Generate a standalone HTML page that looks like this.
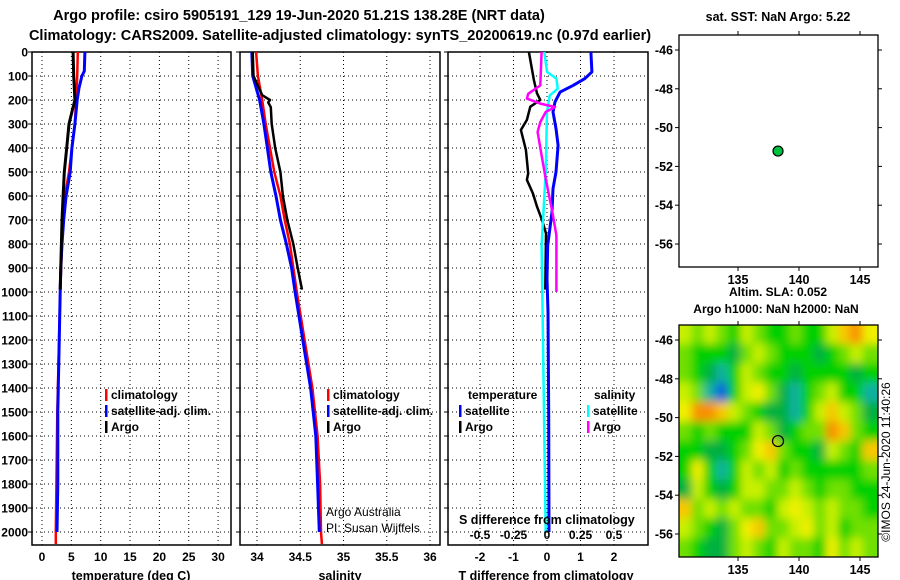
<!DOCTYPE html>
<html><head><meta charset="utf-8"><style>
html,body{margin:0;padding:0;background:#fff;}
svg{display:block;font-family:"Liberation Sans",Arial,sans-serif;font-weight:bold;}
</style></head><body>
<svg id="fig" width="900" height="580" viewBox="0 0 900 580" xmlns="http://www.w3.org/2000/svg">
<defs>
<filter id="blur" x="-5%" y="-5%" width="110%" height="110%"><feGaussianBlur stdDeviation="4.5"/></filter>
<clipPath id="mapclip"><rect x="679" y="325" width="199" height="232"/></clipPath>
</defs>
<text x="299" y="20" text-anchor="middle" font-size="14.5">Argo profile: csiro 5905191_129 19-Jun-2020 51.21S 138.28E (NRT data)</text>
<text x="340" y="40" text-anchor="middle" font-size="14.5">Climatology: CARS2009. Satellite-adjusted climatology: synTS_20200619.nc (0.97d earlier)</text>
<g id="layer"></g>
</svg>
<script>
// ---------- data ----------
const depthTicks = [0,100,200,300,400,500,600,700,800,900,1000,1100,1200,1300,1400,1500,1600,1700,1800,1900,2000];
const tempTicks = [0,5,10,15,20,25,30];
const salTicks = [34,34.5,35,35.5,36];
const tdiffTicks = [-2,-1,0,1,2];
const sdiffTickLabels = ["-0.5","-0.25","0","0.25","0.5"];
const sdiffTickValues = [-0.5,-0.25,0,0.25,0.5];

const argoDepth = [0,100,200,250,300,400,500,600,700,800,990];
const argoTemp  = [5.3,5.4,5.6,5.1,4.6,4.2,3.8,3.6,3.4,3.3,3.1];
const climDepth = [0,100,200,300,400,500,600,700,800,1000,1500,2000,2050];
const climTemp  = [6.1,6.0,5.8,5.6,5.1,4.6,3.9,3.6,3.4,3.1,2.6,2.35,2.35];
const satDepth  = [0,80,100,150,200,300,400,500,600,700,800,900,1000,1500,1800,2000];
const satTemp   = [7.3,7.2,6.8,6.3,6.0,5.6,5.1,4.8,4.1,3.7,3.4,3.2,3.1,2.7,2.7,2.55];

const argoSalDepth = [0,100,180,200,210,230,300,400,500,600,700,800,900,990];
const argoSal = [33.95,33.96,34.06,34.15,34.13,34.16,34.17,34.21,34.27,34.30,34.35,34.42,34.47,34.52];
const climSalDepth = [0,100,200,300,400,500,600,700,800,1000,1200,1400,1600,1800,2000,2050];
const climSal = [33.99,34.01,34.06,34.10,34.15,34.20,34.27,34.32,34.38,34.46,34.55,34.64,34.70,34.73,34.74,34.75];
const satSalDepth = [0,100,200,300,400,500,600,700,800,900,1000,1200,1400,1600,1800,2000];
const satSal = [33.94,33.95,34.03,34.08,34.12,34.16,34.22,34.27,34.34,34.40,34.44,34.53,34.62,34.68,34.70,34.72];

const argoTdDepth = [0,117,172,200,228,283,325,408,506,533,589,644,700,756,990];
const argoTdiff = [-0.54,-0.39,-0.3,-0.2,-0.5,-0.6,-0.78,-0.63,-0.56,-0.6,-0.42,-0.3,-0.15,-0.03,-0.05];
const satTdDepth = [0,83,111,139,167,208,250,319,389,500,569,667,806,944,1083,1500,2000];
const satTdiff = [1.31,1.34,1.13,0.78,0.39,0.24,0.18,0.27,0.33,0.27,0.18,0.15,0.02,0.0,0.03,0.05,0.06];
const satSdDepth = [0,83,111,153,181,250,500,806,1200,1600,2000];
const satSdiff = [-0.02,0.0,0.07,0.08,0.02,0.0,-0.01,-0.04,-0.03,-0.02,-0.01];
const argoSdDepth = [0,139,174,194,215,229,250,292,333,431,528,667,764,833,1000];
const argoSdiff = [-0.04,-0.05,-0.14,-0.15,-0.05,0.06,-0.01,-0.05,-0.07,-0.04,-0.01,0.04,0.07,0.07,0.07];

const floatLon = 138.28, floatLat = -51.21;
const lonTicks = [135,140,145];
const latTicks = [-46,-48,-50,-52,-54,-56];
// SLA colour-level grid, rows lat -45.7..-56.7, cols lon 130.7..145.7
const slaGrid = [
[5,4,5,4,3,5,4,3,3,4,3,3,5,7,8,6],
[4,3,3,3,2,4,5,4,3,3,3,2,3,4,5,4],
[4,3,2,1,3,5,4,3,3,2,3,3,3,3,2,3],
[5,4,1,0,3,5,6,4,2,1,3,4,5,3,3,1],
[6,8,8,7,5,4,3,2,2,1,3,5,7,5,4,2],
[4,3,4,3,3,3,5,4,2,3,4,4,8,7,4,3],
[3,3,2,2,3,4,6,7,4,3,3,2,5,4,3,7],
[3,6,3,1,3,5,4,5,3,4,3,3,3,3,3,4],
[2,5,3,2,3,5,5,4,4,5,4,3,4,4,3,3],
[7,4,5,4,5,4,4,3,5,6,5,4,5,4,4,3],
[5,4,3,2,4,6,7,4,4,5,6,4,5,3,4,4],
[4,3,2,2,4,5,4,3,5,4,4,3,6,4,5,4]];
const slaColors = ["#1060e0","#10b0a0","#00b040","#00d000","#70e000","#c8f000","#f0f000","#f8c800","#f89000"];

// ---------- scales ----------
const TOP=52, BOT=545;
const yD = d => 52 + 0.24*d;
const xT = t => 42 + 5.87*t;
const xS = s => 257 + 86.5*(s-34);
const xTd = v => 547 + 33.5*v;
const xSd = v => 547 + 134*v;
const mapX = lon => 738 + 12.2*(lon-135);
const mapY = (lat,off) => off + 50 - 19.4*(lat+46);

const NS="http://www.w3.org/2000/svg";
const layer=document.getElementById('layer');
function el(tag, attrs, parent){const e=document.createElementNS(NS,tag);for(const k in attrs)e.setAttribute(k,attrs[k]);(parent||layer).appendChild(e);return e;}
function txt(x,y,s,size,anchor,weight,parent){const t=el('text',{x:x,y:y,'font-size':size,'text-anchor':anchor||'start','font-weight':weight||'bold'},parent);t.textContent=s;return t;}

// ---------- panels ----------
const panels=[{x0:32,x1:231,name:'temperature-panel'},{x0:240,x1:440,name:'salinity-panel'},{x0:448,x1:648,name:'difference-panel'}];
panels.forEach((p,i)=>{
  const g=el('g',{});
  
  
  depthTicks.forEach(d=>{
    const y=yD(d);
    const l=el('line',{x1:p.x0,x2:p.x1,y1:y,y2:y,stroke:'#000','stroke-width':1,'stroke-dasharray':'1,3'},g);
    
    
    el('line',{x1:p.x0-4,x2:p.x0,y1:y,y2:y,stroke:'#000','stroke-width':1},g);
    if(i===0){
      const t=txt(28,y+4.5,String(d),12,'end','bold',g);
      
      
    }
  });
  const xs = i===0? tempTicks.map(xT) : i===1? salTicks.map(xS) : tdiffTicks.map(xTd);
  const labs = i===0? tempTicks.map(String) : i===1? salTicks.map(String) : tdiffTicks.map(String);
  xs.forEach((x,k)=>{
    const l=el('line',{x1:x,x2:x,y1:TOP,y2:BOT,stroke:'#000','stroke-width':1,'stroke-dasharray':'1,3'},g);
    
    
    const t=txt(x,561,labs[k],12,'middle','bold',g);
    
    
  });
  const r=el('rect',{x:p.x0,y:TOP,width:p.x1-p.x0,height:BOT-TOP,fill:'none',stroke:'#000','stroke-width':1.5},g);
  
  
});
const t1=txt(131,580,'temperature (deg C)',12.5,'middle');
 
const t2=txt(340,580,'salinity',12.5,'middle');
 
const t3=txt(546,580,'T difference from climatology',12.5,'middle');
 

function series(depths, vals, xf, color, name, w){
  const pts=depths.map((d,k)=>xf(vals[k]).toFixed(1)+','+yD(d).toFixed(1)).join(' ');
  const pl=el('polyline',{points:pts,fill:'none',stroke:color,'stroke-width':w||2.5,'stroke-linejoin':'round'});
  
  
}
series(climDepth,climTemp,xT,'#ff0000','climatology-temp-line');
series(satDepth,satTemp,xT,'#0000ff','satellite-adj-temp-line',3);
series(argoDepth,argoTemp,xT,'#000000','argo-temp-line',3);
series(climSalDepth,climSal,xS,'#ff0000','climatology-salinity-line');
series(satSalDepth,satSal,xS,'#0000ff','satellite-adj-salinity-line',3);
series(argoSalDepth,argoSal,xS,'#000000','argo-salinity-line');
series(argoTdDepth,argoTdiff,xTd,'#000000','argo-temp-diff-line');
series(satTdDepth,satTdiff,xTd,'#0000ff','satellite-temp-diff-line',3);
series(satSdDepth,satSdiff,xSd,'#00ffff','satellite-sal-diff-line');
series(argoSdDepth,argoSdiff,xSd,'#ff00ff','argo-sal-diff-line');

// legends
function legend(x,y,color,label,name){
  const g=el('g',{});
  
  
  el('rect',{x:x,y:y-10,width:2.5,height:12,fill:color},g);
  txt(x+6,y,label,12,'start','bold',g);
}
legend(105,399,'#ff0000','climatology','legend-climatology');
legend(105,415,'#0000ff','satellite-adj. clim.','legend-satellite-adj');
legend(105,431,'#000000','Argo','legend-argo');
legend(327,399,'#ff0000','climatology','legend-climatology-sal');
legend(327,415,'#0000ff','satellite-adj. clim.','legend-satellite-adj-sal');
legend(327,431,'#000000','Argo','legend-argo-sal');
const lt=txt(468,399,'temperature',12);
const ls=txt(594,399,'salinity',12);
legend(459,415,'#0000ff','satellite','legend-temp-satellite');
legend(459,431,'#000000','Argo','legend-temp-argo');
legend(587,415,'#00ffff','satellite','legend-sal-satellite');
legend(587,431,'#ff00ff','Argo','legend-sal-argo');
const aa=txt(326,516,'Argo Australia',12,'start','normal');
const pi=txt(326,532,'PI: Susan Wijffels',12,'start','normal');
const sd=txt(459,524,'S difference from climatology',12.5);
sdiffTickValues.forEach((v,k)=>{
  const t=txt(xSd(v),539,sdiffTickLabels[k],12,'middle');
  
  
});

// ---------- maps ----------
function mapFrame(off,name){
  const g=el('g',{});
  
  
  lonTicks.forEach(l=>{
    const x=mapX(l);
    el('line',{x1:x,x2:x,y1:off+35,y2:off+31,stroke:'#000'},g);
    el('line',{x1:x,x2:x,y1:off+267,y2:off+271,stroke:'#000'},g);
    const t=txt(x,off+284,String(l),12.5,'middle','bold',g);
    
    
  });
  latTicks.forEach(l=>{
    const y=mapY(l,off);
    el('line',{x1:675,x2:679,y1:y,y2:y,stroke:'#000'},g);
    el('line',{x1:878,x2:882,y1:y,y2:y,stroke:'#000'},g);
    const t=txt(673,y+4.5,String(l),12.5,'end','bold',g);
    
    
  });
  el('rect',{x:679,y:off+35,width:199,height:232,fill:'none',stroke:'#000','stroke-width':1.3},g);
  return g;
}
const hm=el('g',{'clip-path':'url(#mapclip)'});


el('rect',{x:679,y:325,width:199,height:232,fill:'#30d800'},hm);
const hb=el('g',{filter:'url(#blur)'},hm);
slaGrid.forEach((row,r)=>row.forEach((v,c)=>{
  const lon0=130.2+c, lat0=-45.2-r;
  const x0=mapX(lon0), y0=mapY(lat0,290);
  const padL=c===0?12:0, padR=c===row.length-1?12:0, padT=r===0?12:0, padB=r===slaGrid.length-1?12:0;
  const cell=el('rect',{x:x0-padL,y:y0-padT,width:12.2+padL+padR+0.5,height:19.4+padT+padB+0.5,fill:slaColors[v]},hb);
  
  
}));
mapFrame(0,'sst-map');
mapFrame(290,'sla-map');
const dot=el('circle',{cx:mapX(floatLon),cy:mapY(floatLat,0),r:5,fill:'#00c040',stroke:'#000','stroke-width':1.2});


const ring=el('circle',{cx:mapX(floatLon),cy:mapY(floatLat,290),r:5.5,fill:'none',stroke:'#000','stroke-width':1.2});


const st=txt(778,21,'sat. SST: NaN Argo: 5.22',12.5,'middle');
const sl=txt(778,296,'Altim. SLA: 0.052',12,'middle');
const ah=txt(776,313,'Argo h1000: NaN h2000: NaN',12,'middle');
const cp=txt(0,0,'©IMOS 24-Jun-2020 11:40:26',12,'middle','normal');
cp.setAttribute('transform','translate(890,462) rotate(-90)');


</script>
</body></html>
